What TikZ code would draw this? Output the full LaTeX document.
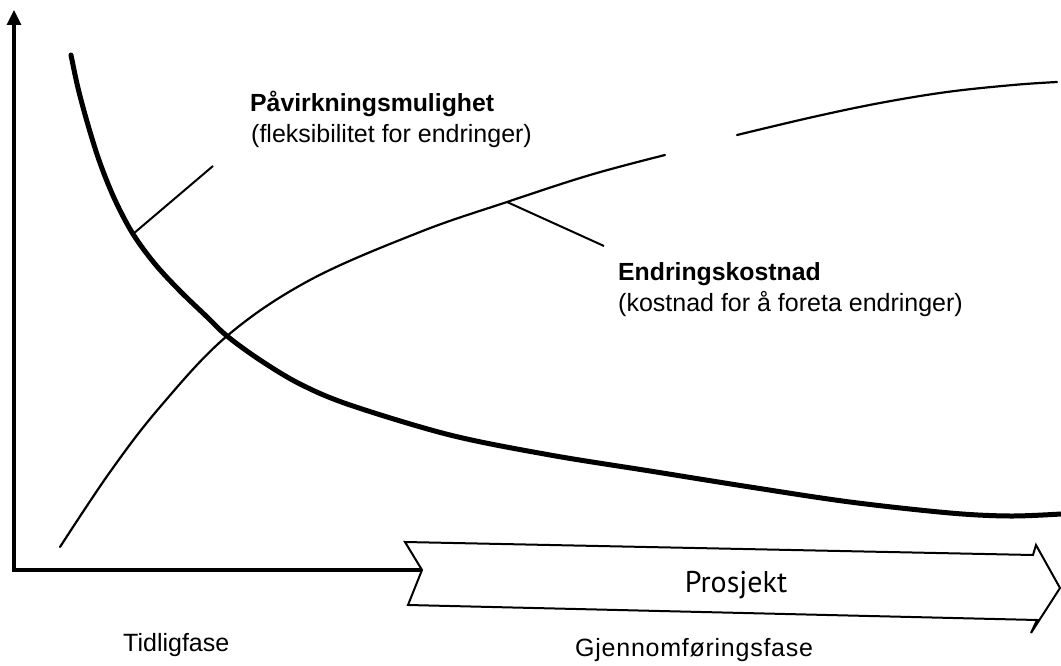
\documentclass[tikz,border=0pt]{standalone}
\usepackage{fontspec}
\setmainfont{Liberation Sans}
\newfontfamily\prosfont{PT Sans}
\usetikzlibrary{arrows.meta}
\begin{document}
\begin{tikzpicture}[x=1pt,y=-1pt,
  axisline/.style={line width=3.2pt, line join=miter},
  thickcurve/.style={line width=5pt, line cap=round, line join=round},
  thincurve/.style={line width=2.2pt, line cap=round, line join=round},
  leader/.style={line width=2pt},
  phasebox/.style={line width=2pt, line join=miter},
  labelhead/.style={font=\fontsize{24.8}{28}\selectfont\bfseries, anchor=base west, inner sep=0pt},
  labelsub/.style={font=\fontsize{25}{28}\selectfont, anchor=base west, inner sep=0pt},
  phaselabel/.style={font=\fontsize{25}{28}\selectfont, anchor=base west, inner sep=0pt},
  projlabel/.style={font=\prosfont\fontsize{30}{34}\selectfont, anchor=base, inner sep=0pt},
]
\useasboundingbox (0,0) rectangle (1061,666);

% axes
\coordinate (origin) at (14,570);
\coordinate (ytop) at (14,10);
\coordinate (notch) at (422,570);
\draw[axisline, -{Triangle[length=15pt,width=14pt]}] (notch) -- (origin) -- (ytop);

% project arrow
\draw[phasebox] (405,542) -- (1033,555) -- (1036,545) -- (1060,588)
  -- (1031,633) -- (1037,620) -- (408,605) -- (notch) -- cycle;
\node[projlabel] (proj) at (736,592) {Prosjekt};

% influence curve (thick, falling)
\draw[thickcurve] plot[smooth, tension=0.55] coordinates {
  (71,55) (78,88) (88,125) (100,163) (115,200) (133,234) (155,264)
  (180,291) (205,315) (227,336) (260,360) (300,384) (350,405)
  (450,435) (550,455) (650,471) (750,487) (850,502) (950,513)
  (1010,516) (1061,514)};

% cost curve (thin, rising), drawn in two pieces
\draw[thincurve] plot[smooth, tension=0.6] coordinates {
  (60,547) (110,472) (160,407) (227,336) (310,280) (420,232)
  (507,202) (590,175) (665,155)};
\draw[thincurve] plot[smooth, tension=0.6] coordinates {
  (737,135) (813,117) (880,103) (947,92) (1013,85) (1057,82)};

% leaders
\coordinate (inflpt) at (133,234);
\coordinate (inflend) at (213,166);
\coordinate (costpt) at (507,202);
\coordinate (costend) at (604,246);
\draw[leader] (inflpt) -- (inflend);
\draw[leader] (costpt) -- (costend);

% labels
\node[labelhead] (inflhead) at (250,112) {Påvirkningsmulighet};
\node[labelsub] (inflsub) at (251,143) {(fleksibilitet for endringer)};
\node[labelhead] (costhead) at (618,280) {Endringskostnad};
\node[labelsub] (costsub) at (618,311) {(kostnad for å foreta endringer)};

\node[phaselabel] (early) at (123,651) {Tidligfase};
\node[phaselabel] (exec) at (575,656) {\addfontfeatures{LetterSpace=3}Gjennomføringsfase};
\end{tikzpicture}
\end{document}
